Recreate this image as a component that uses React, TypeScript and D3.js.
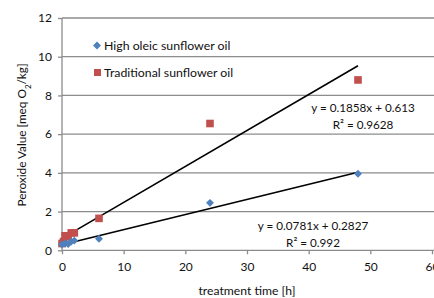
import React, { useEffect, useRef } from "react";
import * as d3 from "d3";

const oleicTime = [0, 0.5, 1, 1.5, 2, 6, 24, 48];
const oleicValue = [0.3, 0.35, 0.32, 0.45, 0.5, 0.6, 2.45, 3.95];
const tradTime = [0, 0.25, 0.5, 1, 1.5, 2, 6, 24, 48];
const tradValue = [0.35, 0.45, 0.75, 0.7, 0.9, 0.9, 1.65, 6.55, 8.8];
const xTicks = [0, 10, 20, 30, 40, 50, 60];
const yTicks = [0, 2, 4, 6, 8, 10, 12];
const oleicFit = [0.0781, 0.2827];
const tradFit = [0.1858, 0.613];
const seriesNames = ["High oleic sunflower oil", "Traditional sunflower oil"];

const FONT = "Lato, 'Open Sans', sans-serif";

export default function App() {
  const ref = useRef<SVGSVGElement>(null);

  useEffect(() => {
    var svg = d3.select(ref.current);
    svg.selectAll("*").remove();

    var x = d3.scaleLinear().domain([0, 60]).range([62, 432]);
    var y = d3.scaleLinear().domain([0, 12]).range([250.3, 18]);
    var grid = "#8c8c8c";

    // gridlines
    svg
      .append("g")
      .selectAll("line")
      .data(yTicks.filter(d => d > 0))
      .enter()
      .append("line")
      .attr("x1", x(0))
      .attr("x2", 434)
      .attr("y1", d => y(d))
      .attr("y2", d => y(d))
      .attr("stroke", grid)
      .attr("stroke-width", 1.3);

    // axes
    var yAxis = svg
      .append("g")
      .attr("transform", "translate(" + x(0) + ",0)")
      .call(d3.axisLeft(y).tickValues(yTicks).tickSize(4).tickPadding(6).tickFormat(d3.format("d")));
    var xAxis = svg
      .append("g")
      .attr("transform", "translate(0," + y(0) + ")")
      .call(d3.axisBottom(x).tickValues(xTicks).tickSize(4).tickPadding(8).tickFormat(d3.format("d")));
    [yAxis, xAxis].forEach(a => {
      a.select(".domain").attr("stroke", grid).attr("stroke-width", 1.3);
      a.selectAll(".tick line").attr("stroke", grid).attr("stroke-width", 1.3);
      a.selectAll("text").attr("fill", "#111").style("font-family", FONT).style("font-size", "12px");
    });
    yAxis.select(".domain").attr("d", "M0," + y(0) + "V" + y(12));
    xAxis.select(".domain").attr("d", "M" + x(0) + ",0H434");

    // trend lines
    [oleicFit, tradFit].forEach(f => {
      svg
        .append("line")
        .attr("x1", x(0))
        .attr("y1", y(f[1]))
        .attr("x2", x(48))
        .attr("y2", y(f[0] * 48 + f[1]))
        .attr("stroke", "#000")
        .attr("stroke-width", 1.6);
    });

    // points
    svg
      .append("g")
      .selectAll("rect")
      .data(tradTime.map((t, i) => [t, tradValue[i]]))
      .enter()
      .append("rect")
      .attr("x", d => x(d[0]) - 3.8)
      .attr("y", d => y(d[1]) - 3.8)
      .attr("width", 7.6)
      .attr("height", 7.6)
      .attr("fill", "#c0504d");

    var diamond = d3.symbol().type(d3.symbolDiamond2).size(40);
    svg
      .append("g")
      .selectAll("path")
      .data(oleicTime.map((t, i) => [t, oleicValue[i]]))
      .enter()
      .append("path")
      .attr("transform", d => "translate(" + x(d[0]) + "," + y(d[1]) + ")")
      .attr("d", diamond())
      .attr("fill", "#4f81bd");

    // legend
    var lg = svg.append("g").style("font-family", FONT).style("font-size", "12.3px").attr("fill", "#111");
    lg.append("path").attr("transform", "translate(97,45.5)").attr("d", diamond()).attr("fill", "#4f81bd");
    lg.append("rect").attr("x", 94).attr("y", 69).attr("width", 7).attr("height", 7).attr("fill", "#c0504d");
    lg.append("text").attr("x", 104).attr("y", 50).text(seriesNames[0]);
    lg.append("text").attr("x", 104).attr("y", 77).text(seriesNames[1]);

    // equations
    var eq = svg
      .append("g")
      .style("font-family", FONT)
      .style("font-size", "11.7px")
      .attr("fill", "#111")
      .attr("text-anchor", "middle");
    var addEq = (cx: number, cy: number, f: number[], r2: string) => {
      eq.append("text").attr("x", cx).attr("y", cy).text("y = " + f[0] + "x + " + f[1]);
      eq.append("text").attr("x", cx).attr("y", cy + 17).text("R² = " + r2);
    };
    addEq(363, 111.5, tradFit, "0.9628");
    addEq(313, 230, oleicFit, "0.992");

    // axis titles
    svg
      .append("text")
      .attr("x", 247)
      .attr("y", 294.5)
      .attr("text-anchor", "middle")
      .style("font-family", FONT)
      .style("font-size", "12.2px")
      .attr("fill", "#111")
      .text("treatment time [h]");

    var yt = svg
      .append("text")
      .attr("transform", "translate(26,135) rotate(-90)")
      .attr("text-anchor", "middle")
      .style("font-family", FONT)
      .style("font-size", "11.8px")
      .attr("fill", "#111");
    yt.append("tspan").text("Peroxide Value [meq O");
    yt.append("tspan").attr("baseline-shift", "sub").style("font-size", "8px").text("2");
    yt.append("tspan").text("/kg]");
  }, []);

  return (
    <svg
      ref={ref}
      width={434}
      height={298}
      style={{ position: "absolute", left: 0, top: 0, background: "#fff" }}
    />
  );
}
